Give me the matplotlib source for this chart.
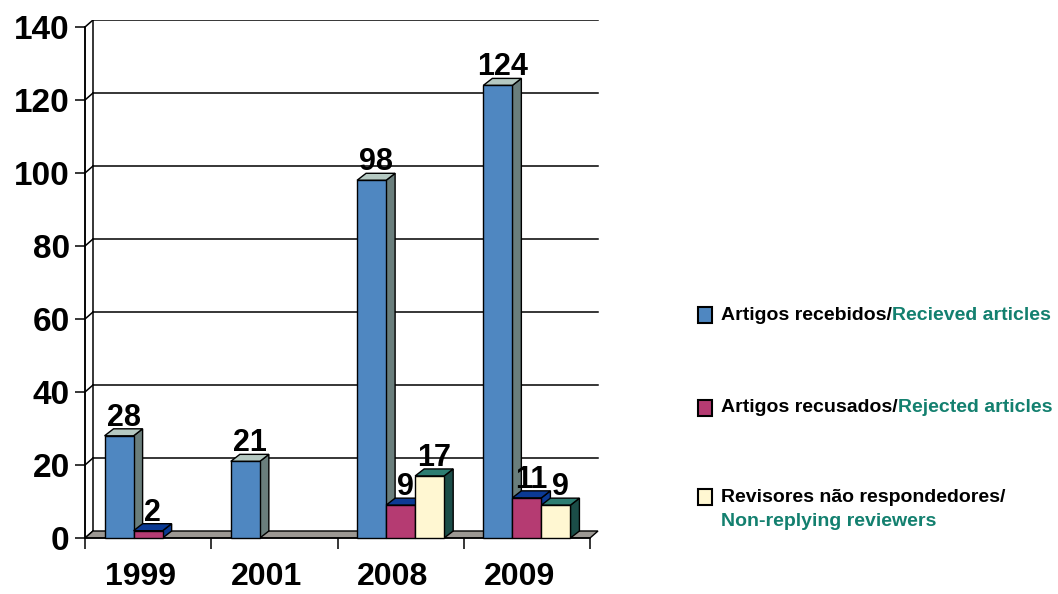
import matplotlib.pyplot as plt
from matplotlib.patches import Polygon, Rectangle

# --- datos ---
anos = ['1999', '2001', '2008', '2009']
recebidos = [28, 21, 98, 124]
recusados = [2, None, 9, 11]
nao_respondedores = [None, None, 17, 9]

series = [recebidos, recusados, nao_respondedores]
etiquetas_pt = ['Artigos recebidos/', 'Artigos recusados/', 'Revisores não respondedores/']
etiquetas_en = ['Recieved articles', 'Rejected articles', 'Non-replying reviewers']

# cor frontal, topo, lateral
cores = [('#4F87C1', '#B5C9C2', '#6A7E7C'),
         ('#B53B72', '#0B3A94', '#0B3A94'),
         ('#FFF7D2', '#2D7D72', '#1B4D48')]
verde = '#13806F'

FONTE = ['Liberation Sans', 'DejaVu Sans']

W, H = 1058, 594
fig = plt.figure(figsize=(W / 100, H / 100), dpi=100)

# escala: 1 categoria = 126.25 px, 1 unidade = 3.65 px
px_x, px_y = 126.25, 3.65
xmin, xmax = -0.06, 4.12
ymin, ymax = -2, 142
left_px = 85 + xmin * px_x
bottom_px = H - (538 - ymin * px_y)
ax = fig.add_axes([left_px / W, bottom_px / H, (xmax - xmin) * px_x / W, (ymax - ymin) * px_y / H])
ax.set_xlim(xmin, xmax)
ax.set_ylim(ymin, ymax)

dxw, dyw = 8 / px_x, 7 / px_y      # profundidade da parede
dxb, dyb = 9 / px_x, 7 / px_y      # profundidade das barras
n = len(anos)

# parede de fundo / grade
for v in range(0, 141, 20):
    if v > 0:
        ax.plot([dxw, n + dxw], [v + dyw, v + dyw], color='black', lw=1.1, zorder=1)
    ax.plot([0, dxw], [v, v + dyw], color='black', lw=1.1, zorder=1)
ax.plot([dxw, dxw], [dyw, 140 + dyw], color='black', lw=1.1, zorder=1)
ax.plot([0, 0], [0, 140], color='black', lw=1.1, zorder=1)

# piso
ax.add_patch(Polygon([(0, 0), (dxw, dyw), (n + dxw, dyw), (n, 0)], closed=True,
                     facecolor='#9C9893', edgecolor='black', lw=1, zorder=2))

# barras 3D
bw = 0.23
off = 0.155
for i in range(n):
    for s, vals in enumerate(series):
        v = vals[i]
        if v is None:
            continue
        x0 = i + off + s * bw
        x1 = x0 + bw
        front, top, side = cores[s]
        ax.add_patch(Polygon([(x1, 0), (x1 + dxb, dyb), (x1 + dxb, v + dyb), (x1, v)],
                             closed=True, facecolor=side, edgecolor='black', lw=1, zorder=3))
        ax.add_patch(Polygon([(x0, v), (x0 + dxb, v + dyb), (x1 + dxb, v + dyb), (x1, v)],
                             closed=True, facecolor=top, edgecolor='black', lw=1, zorder=3))
        ax.add_patch(Rectangle((x0, 0), bw, v, facecolor=front, edgecolor='black', lw=1, zorder=3))
        ax.text((x0 + x1) / 2 + dxb / 2, v + 0.8, str(v), ha='center', va='bottom',
                fontsize=22, fontweight='bold', family=FONTE, zorder=5)

# eixos
for sp in ['top', 'right']:
    ax.spines[sp].set_visible(False)
ax.spines['left'].set_position(('data', 0))
ax.spines['bottom'].set_position(('data', 0))
ax.spines['left'].set_bounds(0, 140)
ax.spines['bottom'].set_bounds(0, n)
ax.spines['left'].set_linewidth(1.1)
ax.spines['bottom'].set_linewidth(1.1)
ax.set_yticks(range(0, 141, 20))
ax.set_xticks(range(0, n + 1))
ax.set_xticklabels([])
ax.set_xticks([i + 0.44 for i in range(n)], minor=True)
ax.set_xticklabels(anos, minor=True)
ax.tick_params(axis='y', direction='out', length=7, width=1.1, pad=4)
ax.tick_params(axis='x', which='major', direction='out', length=8, width=1.1)
ax.tick_params(axis='x', which='minor', length=0, pad=17)
for lab in ax.get_yticklabels():
    lab.set_fontsize(24)
    lab.set_fontweight('bold')
    lab.set_family(FONTE)
for lab in ax.get_xticklabels(minor=True):
    lab.set_fontsize(23)
    lab.set_fontweight('bold')
    lab.set_family(FONTE)

# legenda
leg_fs = 14
leg_y = [315, 408, 497]
for s in range(3):
    yc = leg_y[s]
    fig.patches.append(Rectangle((698 / W, (H - yc - 8) / H), 14 / W, 16 / H,
                                 transform=fig.transFigure, facecolor=cores[s][0],
                                 edgecolor='black', lw=1.5))
    t1 = fig.text(721 / W, (H - yc) / H, etiquetas_pt[s], ha='left', va='center',
                  fontsize=leg_fs, fontweight='bold', family=FONTE, color='black')
    if s < 2:
        ax.annotate(etiquetas_en[s], xy=(1, 0), xycoords=t1, va='bottom', ha='left',
                    fontsize=leg_fs, fontweight='bold', family=FONTE, color=verde,
                    annotation_clip=False)
    else:
        fig.text(721 / W, (H - yc - 24) / H, etiquetas_en[s], ha='left', va='center',
                 fontsize=leg_fs, fontweight='bold', family=FONTE, color=verde)

fig.savefig('out.png', dpi=100)
